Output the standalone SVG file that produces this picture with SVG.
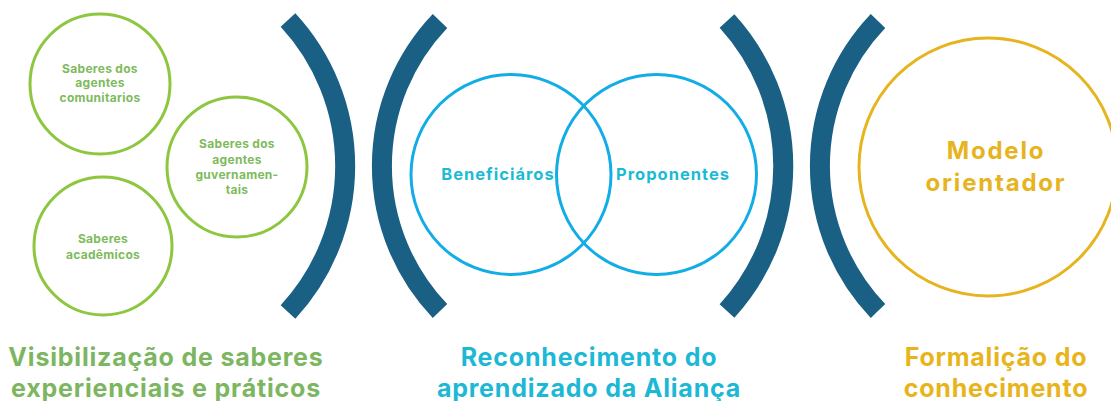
<svg xmlns="http://www.w3.org/2000/svg" width="1111" height="401" viewBox="0 0 1111 401">
<style>
.bg{fill:#ffffff}
.arc{fill:none;stroke:#1a5f84;stroke-width:20;stroke-linecap:butt}
.gc{fill:none;stroke:#8dc63f;stroke-width:3}
.bc{fill:none;stroke:#12ace6;stroke-width:3}
.yc{fill:none;stroke:#e6b41e;stroke-width:3}
text{font-family:"Inter","Liberation Sans",sans-serif;font-weight:700;text-anchor:middle}
.gs{fill:#7dbb5c;font-size:12px;letter-spacing:0.3px}
.bs{fill:#1cbad4;font-size:16.5px;letter-spacing:1px}
.ys{fill:#e6b41e;font-size:24px;letter-spacing:1.8px}
.gt{fill:#7cb661;font-size:25px;letter-spacing:0.8px}
.bt{fill:#1cb8d6;font-size:25px;letter-spacing:0.8px}
.yt{fill:#e8b41c;font-size:25px;letter-spacing:0.8px}
</style>
<rect class="bg" width="1111" height="401"/>
<g id="arcs">
<path class="arc" d="M288 20 A215 215 0 0 1 288 312"/>
<path class="arc" d="M440 21 A210 210 0 0 0 440 311"/>
<path class="arc" d="M727 21 A215 215 0 0 1 727 311"/>
<path class="arc" d="M878 21 A210 210 0 0 0 878 311"/>
</g>
<g id="n1"><circle class="gc" cx="100" cy="84" r="70"/>
<text class="gs" x="100" y="73">Saberes dos</text>
<text class="gs" x="100" y="87">agentes</text>
<text class="gs" x="100" y="102">comunitarios</text></g>
<g id="n2"><circle class="gc" cx="237" cy="167" r="70"/>
<text class="gs" x="237" y="148">Saberes dos</text>
<text class="gs" x="237" y="164">agentes</text>
<text class="gs" x="237" y="179">guvernamen-</text>
<text class="gs" x="237" y="194">tais</text></g>
<g id="n3"><circle class="gc" cx="103" cy="246" r="69"/>
<text class="gs" x="103" y="243">Saberes</text>
<text class="gs" x="103" y="259">acadêmicos</text></g>
<g id="n4"><circle class="bc" cx="511" cy="174.5" r="100"/>
<text class="bs" x="498" y="180">Beneficiáros</text></g>
<g id="n5"><circle class="bc" cx="656.5" cy="174.5" r="100"/>
<text class="bs" x="673" y="180">Proponentes</text></g>
<g id="n6"><circle class="yc" cx="988" cy="167" r="129"/>
<text class="ys" x="996" y="159">Modelo</text>
<text class="ys" x="996" y="191">orientador</text></g>
<g id="labels">
<text class="gt" x="166" y="366">Visibilização de saberes</text>
<text class="gt" x="166" y="397">experienciais e práticos</text>
<text class="bt" x="589" y="366">Reconhecimento do</text>
<text class="bt" x="589" y="397">aprendizado da Aliança</text>
<text class="yt" x="996" y="366">Formalição do</text>
<text class="yt" x="996" y="397">conhecimento</text>
</g>
</svg>
